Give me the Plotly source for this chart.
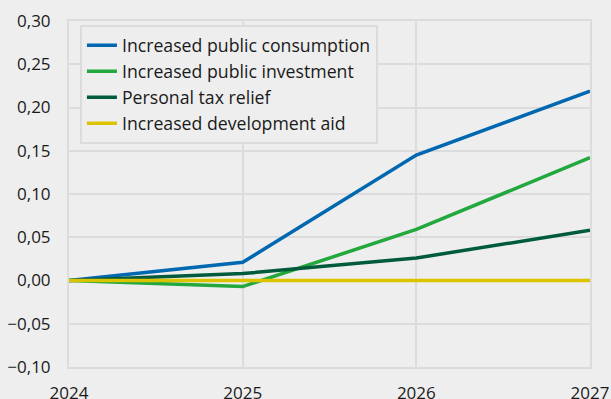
import plotly.graph_objects as go

years = [2024, 2025, 2026, 2027]
series_names = [
    "Increased public consumption",
    "Increased public investment",
    "Personal tax relief",
    "Increased development aid",
]
public_consumption = [0.0, 0.021, 0.145, 0.219]
public_investment = [0.0, -0.007, 0.059, 0.142]
personal_tax_relief = [0.0, 0.008, 0.026, 0.058]
development_aid = [0.0, 0.0, 0.0, 0.0]
y_ticks = [-0.10, -0.05, 0.0, 0.05, 0.10, 0.15, 0.20, 0.25, 0.30]

values = [public_consumption, public_investment, personal_tax_relief, development_aid]
colors = ["#0067b1", "#22a83c", "#005a3c", "#dcc300"]

fig = go.Figure()
for name, vals, col in zip(series_names, values, colors):
    fig.add_trace(go.Scatter(x=years, y=vals, name=name, mode="lines",
                             line=dict(color=col, width=3.5)))

bg = "#eeeeee"
grid = "#dcdcdc"
fig.update_layout(
    width=611, height=399,
    margin=dict(l=69, r=21, t=21, b=32, autoexpand=False),
    paper_bgcolor=bg, plot_bgcolor=bg,
    separators=", ",
    font=dict(family="Open Sans", size=17, color="#1a1a1a"),
    showlegend=True,
    legend=dict(x=0.021, y=0.988, xanchor="left", yanchor="top",
                bgcolor=bg, bordercolor=grid, borderwidth=2,
                font=dict(size=17.7, color="#1a1a1a"),
                tracegroupgap=0, itemwidth=30),
)
fig.update_xaxes(range=[2024, 2027], tickvals=years, ticktext=[str(y) for y in years],
                 showgrid=True, gridcolor=grid, gridwidth=2,
                 showline=True, mirror=True, linecolor=grid, linewidth=2,
                 zeroline=False, ticks="", ticklabelstandoff=10, automargin=False,
                 tickfont=dict(size=17, color="#1a1a1a"))
fig.update_yaxes(range=[-0.10, 0.30], tickvals=y_ticks, tickformat=".2f",
                 showgrid=True, gridcolor=grid, gridwidth=2,
                 showline=True, mirror=True, linecolor=grid, linewidth=2,
                 zeroline=False, ticks="", ticklabelstandoff=13, automargin=False,
                 tickfont=dict(size=17, color="#1a1a1a"))

fig.write_html("out.html")
